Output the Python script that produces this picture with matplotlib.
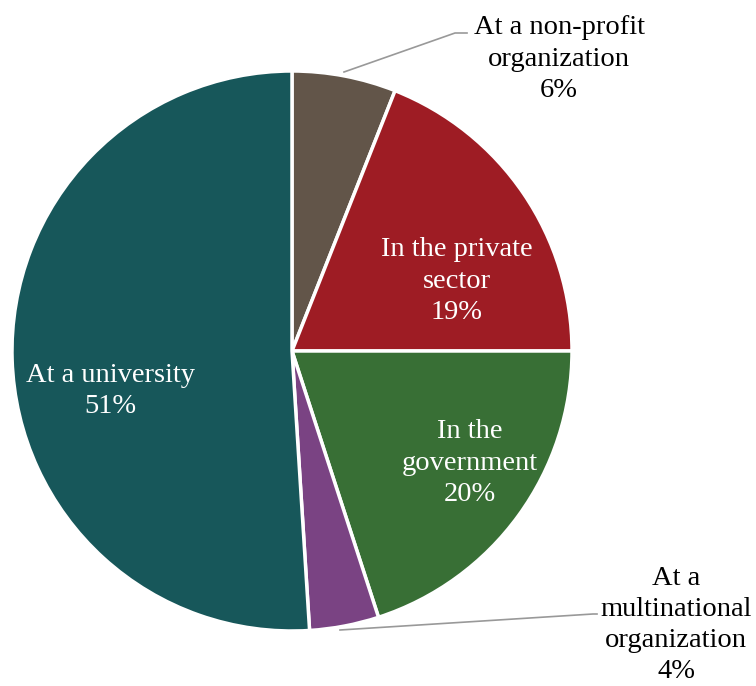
import matplotlib.pyplot as plt

plt.rcParams['font.family'] = ['Liberation Serif', 'DejaVu Serif']

categories = ["At a non-profit\norganization", "In the private\nsector", "In the\ngovernment",
              "At a\nmultinational\norganization", "At a university"]
values = [6, 19, 20, 4, 51]
colors = ["#625549", "#9E1C24", "#386F35", "#7A4383", "#17575A"]

W, H = 756, 686
fig = plt.figure(figsize=(W / 100, H / 100), dpi=100)
ax = fig.add_axes([0, 0, 1, 1])

cx, cy, r = 292, H - 351, 280
wedges, _ = ax.pie(values, colors=colors, startangle=90, counterclock=False,
                   center=(cx, cy), radius=r, frame=True,
                   wedgeprops=dict(edgecolor='white', linewidth=2.5))
ax.set_xlim(0, W)
ax.set_ylim(0, H)
ax.set_aspect('equal')
ax.axis('off')

fs = 20.5
ls = 1.33
# labels inside the slices
inside = {1: (457, 281), 2: (470, 463), 4: (110, 391)}
for i, (px, py) in inside.items():
    ax.text(px, H - py, f"{categories[i]}\n{values[i]}%", ha='center', va='center',
            color='white', fontsize=fs, linespacing=ls)

# outside labels with leader lines
ax.plot([344, 455, 467], [H - 72, H - 33, H - 33], color='#999999', lw=1.2)
ax.text(559, H - 59, f"{categories[0]}\n{values[0]}%", ha='center', va='center',
        color='black', fontsize=fs, linespacing=ls)

ax.plot([340, 593, 597], [H - 630, H - 614, H - 614], color='#999999', lw=1.2)
ax.text(676, H - 625, f"{categories[3]}\n{values[3]}%", ha='center', va='center',
        color='black', fontsize=fs, linespacing=ls)

fig.savefig("out.png", dpi=100, facecolor='white')
